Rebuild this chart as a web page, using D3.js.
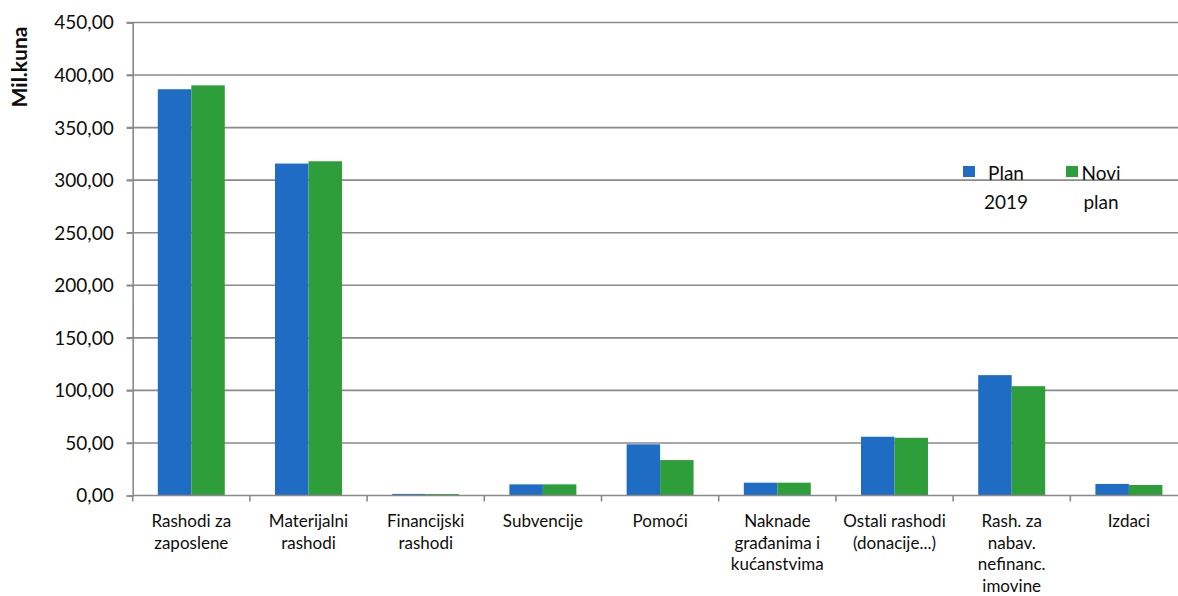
<!DOCTYPE html>
<html><head><meta charset="utf-8">
<script src="https://cdn.jsdelivr.net/npm/d3@7/dist/d3.min.js"></script>
<style>body{margin:0;background:#fff}svg{display:block}text{font-family:Lato,"Open Sans",sans-serif;fill:#0d0d0d}</style>
</head><body><svg id="c" width="1178" height="596"></svg>
<script>
const categories = [
  ["Rashodi za","zaposlene"],
  ["Materijalni","rashodi"],
  ["Financijski","rashodi"],
  ["Subvencije"],
  ["Pomoći"],
  ["Naknade","građanima i","kućanstvima"],
  ["Ostali rashodi","(donacije...)"],
  ["Rash. za","nabav.","nefinanc.","imovine"],
  ["Izdaci"]
];
const seriesNames = [["Plan","2019"],["Novi","plan"]];
const plan2019 = [386.5, 315.8, 1.5, 10.6, 48.7, 12.2, 55.9, 114.5, 11.0];
const noviPlan = [390.2, 318.0, 1.4, 10.6, 33.7, 12.2, 54.9, 104.0, 10.0];
const yTicks = [0,50,100,150,200,250,300,350,400,450];
const colors = ["#1f6cc4","#2e9e3a"];

const svg = d3.select("#c");
const mLeft = 132.7, mRight = 1187.5, mTop = 22.5, mBottom = 495.5;
const idx = categories.map((d,i)=>i);
const x0 = d3.scaleBand().domain(idx).range([mLeft,mRight]).padding(0);
const x1 = d3.scaleBand().domain([0,1]).range([0,x0.bandwidth()]).paddingInner(0).paddingOuter(0.75);
const y = d3.scaleLinear().domain([0,450]).range([mBottom,mTop]);
const fmt = v => d3.format(".2f")(v).replace(".",",");

// gridlines
svg.append("g").selectAll("line").data(yTicks.filter(d=>d>0)).join("line")
  .attr("x1",mLeft-6).attr("x2",1178).attr("y1",d=>y(d)).attr("y2",d=>y(d))
  .attr("stroke","#8a8a8a").attr("stroke-width",1.6);

// y axis
const yAxis = svg.append("g").attr("transform",`translate(${mLeft},0)`)
  .call(d3.axisLeft(y).tickValues(yTicks).tickFormat(fmt).tickSize(6).tickPadding(13));
yAxis.select(".domain").attr("stroke","#8a8a8a").attr("stroke-width",1.6);
yAxis.selectAll(".tick line").attr("stroke","#8a8a8a").attr("stroke-width",1.6);
yAxis.selectAll(".tick text").attr("font-size",19).attr("font-family","Lato").attr("fill","#0d0d0d").attr("dy","0.34em");

// bars
const data = [plan2019, noviPlan];
data.forEach((vals,s)=>{
  svg.append("g").selectAll("rect").data(vals).join("rect")
    .attr("x",(d,i)=>x0(i)+x1(s)).attr("width",x1.bandwidth())
    .attr("y",d=>y(d)).attr("height",d=>y(0)-y(d)).attr("fill",colors[s]);
});

// x axis
const xAxis = svg.append("g").attr("transform",`translate(0,${mBottom})`);
xAxis.append("line").attr("x1",mLeft).attr("x2",1178).attr("y1",0).attr("y2",0)
  .attr("stroke","#8a8a8a").attr("stroke-width",1.6);
xAxis.selectAll("line.t").data(idx.concat([categories.length])).join("line").attr("class","t")
  .attr("x1",d=>mLeft+d*x0.step()).attr("x2",d=>mLeft+d*x0.step()).attr("y1",0).attr("y2",6)
  .attr("stroke","#8a8a8a").attr("stroke-width",1.6);
const lbl = svg.append("g").selectAll("text").data(categories).join("text")
  .attr("text-anchor","middle").attr("font-size",17)
  .attr("transform",(d,i)=>`translate(${x0(i)+x0.bandwidth()/2},527)`);
lbl.selectAll("tspan").data(d=>d).join("tspan").attr("x",0).attr("y",(d,j)=>j*21.7).text(d=>d);

// y title
svg.append("text").attr("transform","translate(27,67) rotate(-90)").attr("text-anchor","middle")
  .attr("font-size",21).attr("font-weight","bold").text("Mil.kuna");

// legend
const legX = [963, 1066];
seriesNames.forEach((n,s)=>{
  const g = svg.append("g").attr("transform",`translate(${legX[s]},0)`);
  g.append("rect").attr("x",0).attr("y",166).attr("width",12).attr("height",11).attr("fill",colors[s]);
  g.append("text").attr("y",180).attr("text-anchor","middle").attr("font-size",19)
    .selectAll("tspan").data(n).join("tspan").attr("x",s===0?43:35).attr("y",(d,j)=>180+j*29).text(d=>d);
});
</script></body></html>
